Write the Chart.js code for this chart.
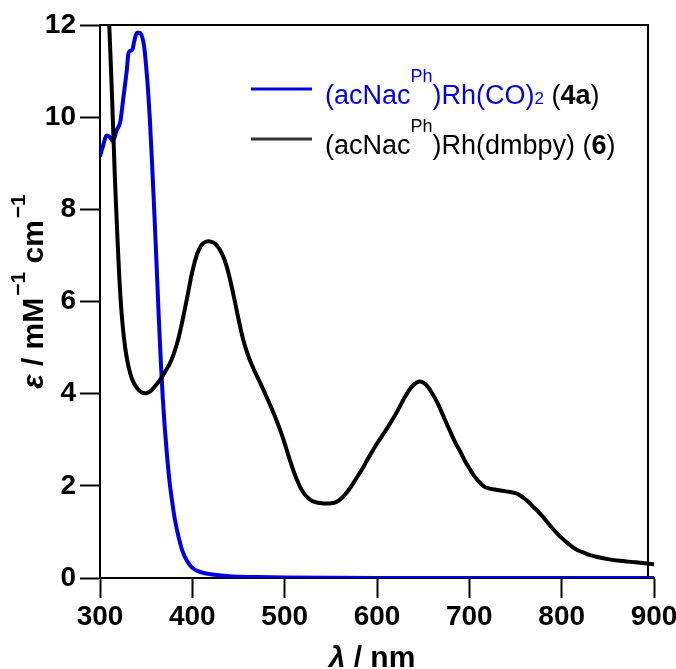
<!DOCTYPE html>
<html><head><meta charset="utf-8">
<script src="https://cdn.jsdelivr.net/npm/chart.js@4"></script>
<style>html,body{margin:0;padding:0;background:#fff;}canvas{display:block;}</style>
</head><body>
<canvas id="c" width="676" height="669"></canvas>
<script>
// ---- data ----
const blueWl  = [300,303.6,307,311,314,318,322,325,329,331,335,337,340,343,346,348,350,352,354,356,358,360,362,364,366,368,370,372,375,378,381,385,389,394,400,410,420,440,470,500,600,700,800,900];
const blueEps = [9.15,9.40,9.60,9.56,9.48,9.72,9.90,10.37,11.02,11.40,11.46,11.64,11.83,11.83,11.72,11.50,11.10,10.60,9.95,9.15,8.30,7.40,6.45,5.50,4.65,3.90,3.30,2.80,2.15,1.68,1.28,0.90,0.60,0.38,0.22,0.12,0.08,0.04,0.02,0.01,0.0,0.0,0.0,0.0];

const blackWl  = [308,310,312,314,316,318,320,322,324,326,328,331,335,340,345,350,355,360,365,370,375,380,385,390,395,400,405,410,415,420,425,430,435,440,445,450,455,460,465,470,475,480,485,490,495,500,505,510,515,520,525,530,540,550,555,560,565,570,575,580,585,590,595,600,605,610,615,620,625,630,635,640,645,650,655,660,665,670,675,680,685,690,695,700,705,710,715,720,730,740,750,755,760,765,770,775,780,785,790,795,800,805,810,815,820,825,830,840,850,860,870,880,890,900];
const blackEps = [13.0,12.0,11.0,9.9,8.75,7.8,6.9,6.15,5.6,5.2,4.9,4.58,4.3,4.12,4.03,4.01,4.06,4.17,4.30,4.46,4.63,4.87,5.20,5.65,6.15,6.65,7.02,7.23,7.30,7.30,7.25,7.12,6.90,6.55,6.10,5.62,5.18,4.85,4.60,4.38,4.17,3.95,3.72,3.48,3.22,2.92,2.60,2.30,2.05,1.86,1.74,1.67,1.62,1.62,1.64,1.70,1.80,1.93,2.08,2.24,2.40,2.58,2.75,2.92,3.07,3.22,3.38,3.55,3.73,3.92,4.08,4.20,4.26,4.24,4.15,4.00,3.82,3.60,3.37,3.15,2.93,2.75,2.55,2.38,2.22,2.10,2.00,1.95,1.91,1.88,1.84,1.79,1.72,1.63,1.53,1.43,1.32,1.20,1.08,0.97,0.87,0.78,0.70,0.63,0.58,0.54,0.50,0.45,0.41,0.38,0.36,0.34,0.32,0.30];

const xMin = 300, xMax = 900, xStep = 100;
const yMin = 0, yMax = 12, yStep = 2;
const frameRightWl = 893.5;

const BLUE = '#0000dc';
const seriesNames = ['(acNacPh)Rh(CO)2 (4a)', '(acNacPh)Rh(dmbpy) (6)'];

const F = 'Liberation Sans, Arial, sans-serif';
const legendRows = [
  {lineColor: BLUE, segs: [
    {t:'(acNac', f:'27px '+F, c:BLUE},
    {t:'Ph', f:'18px '+F, c:BLUE, dy:-22},
    {t:')Rh(CO)', f:'27px '+F, c:BLUE},
    {t:'2', f:'17px '+F, c:BLUE, dy:0},
    {t:' (', f:'27px '+F, c:'#000'},
    {t:'4a', f:'bold 27px '+F, c:'#000'},
    {t:')', f:'27px '+F, c:'#000'}
  ]},
  {lineColor: '#333', segs: [
    {t:'(acNac', f:'27px '+F, c:'#000'},
    {t:'Ph', f:'18px '+F, c:'#000', dy:-22},
    {t:')Rh(dmbpy) (', f:'27px '+F, c:'#000'},
    {t:'6', f:'bold 27px '+F, c:'#000'},
    {t:')', f:'27px '+F, c:'#000'}
  ]}
];

function drawRich(ctx, segs, x, y, align){
  let total = 0;
  segs.forEach(s => { ctx.font = s.f; s.w = ctx.measureText(s.t).width + (s.gap || 0); total += s.w; });
  let cx = align === 'center' ? x - total/2 : x;
  ctx.textBaseline = 'alphabetic';
  ctx.textAlign = 'left';
  segs.forEach(s => {
    ctx.font = s.f; ctx.fillStyle = s.c || '#000';
    ctx.fillText(s.t, cx + (s.gap || 0), y + (s.dy || 0));
    cx += s.w;
  });
}

const decorPlugin = {
  id: 'decor',
  afterDraw(chart){
    const {ctx, chartArea: a, scales: {x}} = chart;
    ctx.save();
    ctx.strokeStyle = '#000'; ctx.lineWidth = 2;
    const xr = x.getPixelForValue(frameRightWl);
    ctx.beginPath();
    ctx.moveTo(a.left, a.top); ctx.lineTo(xr, a.top); ctx.lineTo(xr, a.bottom);
    ctx.stroke();
    legendRows.forEach((r, i) => {
      const base = 104 + i*50;
      ctx.strokeStyle = r.lineColor; ctx.lineWidth = 3;
      ctx.beginPath(); ctx.moveTo(251, base - 15); ctx.lineTo(312, base - 15); ctx.stroke();
      drawRich(ctx, r.segs, 325, base, 'left');
    });
    drawRich(ctx, [
      {t:'λ', f:'italic bold 30px '+F},
      {t:' / nm', f:'bold 30px '+F}
    ], (a.left + a.right)/2 - 5, 667, 'center');
    ctx.translate(43, (a.top + a.bottom)/2 - 10);
    ctx.rotate(-Math.PI/2);
    drawRich(ctx, [
      {t:'ε', f:'italic bold 30px '+F},
      {t:' / mM', f:'bold 30px '+F},
      {t:'−1', f:'bold 21px '+F, dy:-18, gap:2},
      {t:' cm', f:'bold 30px '+F},
      {t:'−1', f:'bold 21px '+F, dy:-18, gap:2}
    ], 0, 0, 'center');
    ctx.restore();
  }
};

const toPts = (xs, ys) => xs.map((v, i) => ({x: v, y: ys[i]}));

new Chart(document.getElementById('c'), {
  type: 'line',
  data: {
    datasets: [
      {label: seriesNames[1], data: toPts(blackWl, blackEps), borderColor: '#000', borderWidth: 4, pointRadius: 0, tension: 0.4, borderJoinStyle: 'round', fill: false},
      {label: seriesNames[0], data: toPts(blueWl, blueEps), borderColor: BLUE, borderWidth: 4, pointRadius: 0, cubicInterpolationMode: 'monotone', borderJoinStyle: 'round', fill: false}
    ]
  },
  options: {
    responsive: false,
    animation: false,
    devicePixelRatio: 1,
    layout: {padding: {top: 25, right: 22, left: 0, bottom: 0}},
    plugins: {legend: {display: false}, title: {display: false}, tooltip: {enabled: false}},
    scales: {
      x: {
        type: 'linear', min: xMin, max: xMax,
        ticks: {stepSize: xStep, color: '#000', padding: 2, font: {family: F, size: 28, weight: 'bold'}, maxRotation: 0},
        grid: {drawOnChartArea: false, drawTicks: true, tickLength: 20, tickColor: '#000', tickWidth: 2},
        border: {color: '#000', width: 2},
        afterFit(s){ s.height = 91; s.paddingLeft = 0; s.paddingRight = 0; }
      },
      y: {
        min: yMin, max: yMax,
        ticks: {stepSize: yStep, color: '#000', padding: 4, font: {family: F, size: 28, weight: 'bold'}},
        grid: {drawOnChartArea: false, drawTicks: true, tickLength: 20, tickColor: '#000', tickWidth: 2},
        border: {color: '#000', width: 2},
        afterFit(s){ s.width = 100; s.paddingTop = 0; s.paddingBottom = 0; }
      }
    }
  },
  plugins: [decorPlugin]
});
</script>
</body></html>
